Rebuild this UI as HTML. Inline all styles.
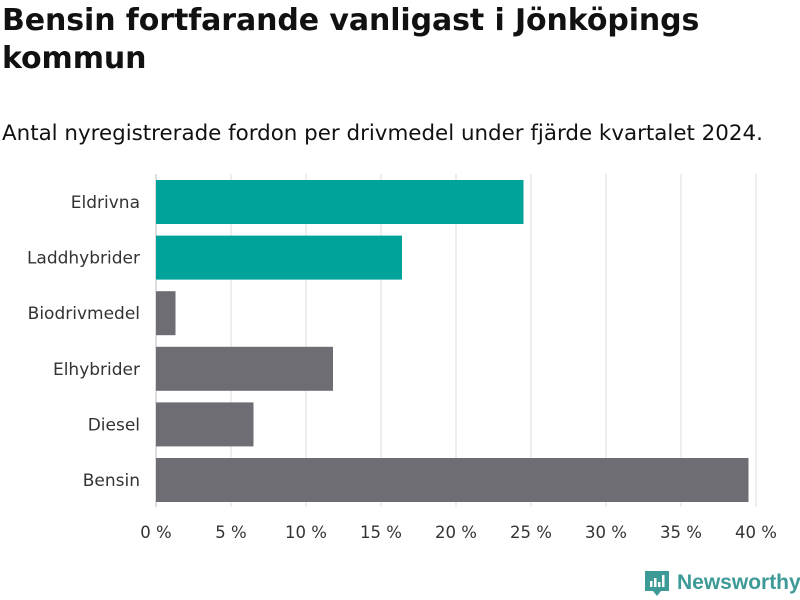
<!DOCTYPE html>
<html><head><meta charset="utf-8">
<style>
body{margin:0;width:800px;height:600px;background:#fff;font-family:"DejaVu Sans","Liberation Sans",sans-serif;overflow:hidden;position:relative}
#title{position:absolute;left:2px;top:2px;font-size:30px;font-weight:bold;line-height:38px;color:#111;letter-spacing:-0.1px}
#sub{position:absolute;left:2px;top:121px;font-size:21.4px;color:#111;white-space:nowrap}
#logo{position:absolute;left:645px;top:569px;display:flex;align-items:center}
#logo span{font-family:"Liberation Sans",sans-serif;font-size:21px;color:#3d9a96;margin-left:8px;font-weight:bold;white-space:nowrap}
</style></head><body>
<div id="title">Bensin fortfarande vanligast i Jönköpings<br>kommun</div>
<div id="sub">Antal nyregistrerade fordon per drivmedel under fjärde kvartalet 2024.</div>
<svg id="chart" width="800" height="600" style="position:absolute;left:0;top:0"></svg>
<div id="logo">
<svg width="24" height="28" viewBox="0 0 24 28"><path d="M0 2h24v20h-8l-4 5-4-5H0z" fill="#3d9a96"/><rect x="5" y="12" width="2.5" height="6" fill="#fff"/><rect x="9" y="9" width="2.5" height="9" fill="#fff"/><rect x="13" y="13" width="2.5" height="5" fill="#fff"/><rect x="17" y="6" width="2.5" height="12" fill="#fff"/></svg>
<span>Newsworthy</span></div>
<script>
const categories=["Eldrivna","Laddhybrider","Biodrivmedel","Elhybrider","Diesel","Bensin"];
const values=[24.5,16.4,1.3,11.8,6.5,39.5];
const highlight=[true,true,false,false,false,false];
const ticks=[0,5,10,15,20,25,30,35,40];
const NS="http://www.w3.org/2000/svg";
const svg=document.getElementById('chart');
const x0=156,x1=756,yTop=174,step=55.6,barH=44;
const xs=v=>x0+(v-ticks[0])/(ticks[ticks.length-1]-ticks[0])*(x1-x0);
function mk(t,a){const e=document.createElementNS(NS,t);for(const k in a)e.setAttribute(k,a[k]);svg.appendChild(e);return e;}
ticks.forEach(t=>{
 const g=mk('line',{x1:xs(t),x2:xs(t),y1:174,y2:507,stroke:t===0?'#bbb':'#ddd','stroke-width':1});
 
 
 const l=mk('text',{x:xs(t),y:538,'text-anchor':'middle','font-size':16.5,fill:'#333'});
 l.textContent=t+' %';
 
 
});
categories.forEach((c,i)=>{
 const y=yTop+i*step+6;
 const r=mk('rect',{x:x0,y:y,width:xs(values[i])-x0,height:barH,fill:highlight[i]?'#00a39a':'#6e6d74'});
 
 
 const t=mk('text',{x:140,y:y+barH/2+6,'text-anchor':'end','font-size':17,fill:'#333'});
 t.textContent=c;
 
 
});
</script>
</body></html>
